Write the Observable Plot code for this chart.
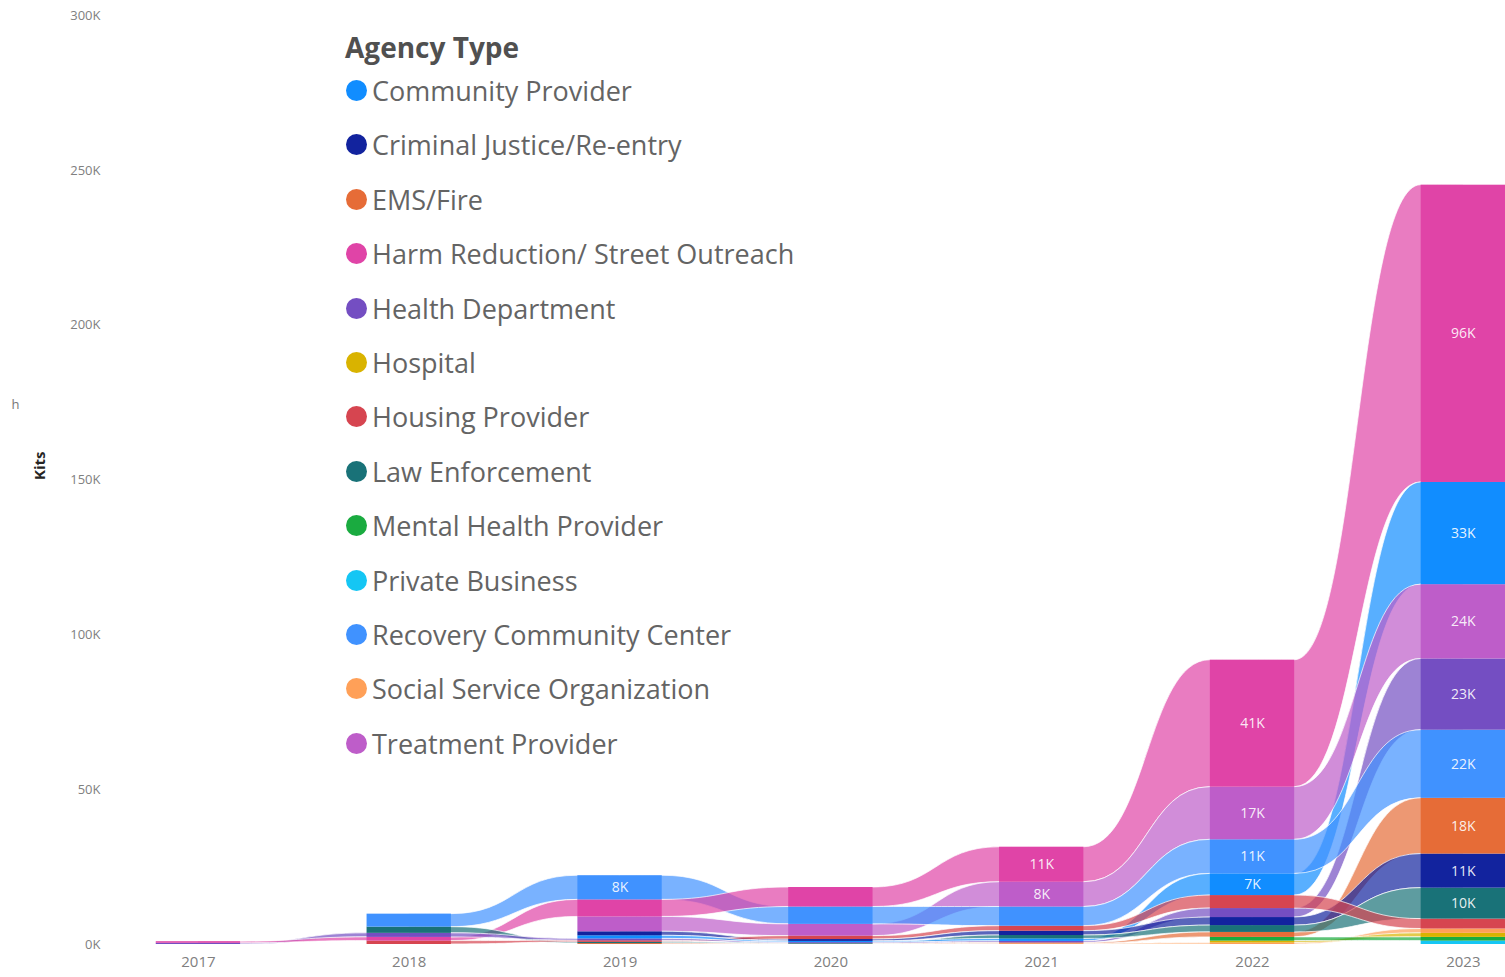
<!DOCTYPE html>
<html><head><meta charset="utf-8">
<script src="https://cdn.jsdelivr.net/npm/d3@7"></script>
<script src="https://cdn.jsdelivr.net/npm/@observablehq/plot@0.6"></script>
<style>
body{margin:0;background:#fff;font-family:"Open Sans",sans-serif;}
#wrap{position:relative;width:1505px;height:977px;overflow:hidden;}
#legend{position:absolute;left:0;top:0;color:#605E5C;}
.ltitle{position:absolute;left:345px;font-size:28px;font-weight:700;color:#505050;white-space:nowrap;line-height:1;}
.litem{position:absolute;left:346px;font-size:27px;white-space:nowrap;line-height:1;display:flex;align-items:center;color:#646464;}
.litem span.dot{display:inline-block;width:21px;height:21px;border-radius:50%;margin-right:5px;}
</style></head>
<body><div id="wrap"><div id="chart"></div><div id="legend"></div></div>
<script>
const years = [2017, 2018, 2019, 2020, 2021, 2022, 2023];
const agencyTypes = ["Community Provider", "Criminal Justice/Re-entry", "EMS/Fire", "Harm Reduction/ Street Outreach", "Health Department", "Hospital", "Housing Provider", "Law Enforcement", "Mental Health Provider", "Private Business", "Recovery Community Center", "Social Service Organization", "Treatment Provider"];
const agencyColors = ["#118DFF", "#12239E", "#E66C37", "#E044A7", "#744EC2", "#D9B300", "#D64550", "#197278", "#1AAB40", "#15C6F4", "#4092FF", "#FFA058", "#BE5DC9"];

// kits per year (2017..2023)
const communityProvider   = [0, 0, 1000, 400, 800, 7000, 33000];
const criminalJustice     = [0, 0, 1300, 600, 1400, 2600, 11000];
const emsFire             = [0, 0, 300, 100, 300, 1600, 18000];
const harmReduction       = [500, 1200, 5500, 6300, 11300, 41000, 96000];
const healthDepartment    = [400, 1300, 600, 300, 500, 2900, 23000];
const hospital            = [0, 0, 0, 0, 0, 600, 1300];
const housingProvider     = [0, 1100, 500, 1100, 1600, 4200, 3200];
const lawEnforcement      = [0, 2000, 400, 200, 1100, 2200, 10000];
const mentalHealth        = [0, 0, 0, 0, 0, 1200, 1200];
const privateBusiness     = [0, 0, 0, 0, 0, 0, 1100];
const recoveryCommunity   = [0, 4200, 7800, 5600, 6200, 11000, 22000];
const socialService       = [0, 0, 0, 0, 200, 500, 1400];
const treatmentProvider   = [0, 0, 4800, 3800, 8000, 17000, 24000];

const seriesValues = [communityProvider, criminalJustice, emsFire, harmReduction, healthDepartment, hospital, housingProvider, lawEnforcement, mentalHealth, privateBusiness, recoveryCommunity, socialService, treatmentProvider];
const yTicks = [0, 50000, 100000, 150000, 200000, 250000, 300000];

const halfW = 0.2;

// stack each year: largest on top
const segments = [];
years.forEach((year, yi) => {
  const rows = agencyTypes.map((a, ai) => ({year, agency: a, value: seriesValues[ai][yi]})).filter(d => d.value > 0);
  rows.sort((a, b) => a.value - b.value);
  let acc = 0;
  for (const r of rows) { r.y0 = acc; acc += r.value; r.y1 = acc; segments.push(r); }
});
const segIndex = new Map(segments.map(s => [s.agency + "|" + s.year, s]));

// ribbons between consecutive years
const ribbonGroups = [];
agencyTypes.forEach((a) => {
  for (let i = 0; i < years.length - 1; i++) {
    const s0 = segIndex.get(a + "|" + years[i]);
    const s1 = segIndex.get(a + "|" + years[i + 1]);
    if (!s0 || !s1) continue;
    const id = a + "|" + i;
    ribbonGroups.push({id, size: Math.max(s0.value, s1.value), pts: [
      {id, agency: a, x: years[i], y0: s0.y0, y1: s0.y1},
      {id, agency: a, x: years[i] + halfW, y0: s0.y0, y1: s0.y1},
      {id, agency: a, x: years[i + 1] - halfW, y0: s1.y0, y1: s1.y1},
      {id, agency: a, x: years[i + 1], y0: s1.y0, y1: s1.y1}
    ]});
  }
});
ribbonGroups.sort((a, b) => b.size - a.size);
const ribbons = ribbonGroups.flatMap(g => g.pts);

const labels = segments.filter(d => d.value >= 6900);

const chart = Plot.plot({
  width: 1505,
  height: 977,
  marginTop: 15,
  marginBottom: 33,
  marginLeft: 110,
  marginRight: 0,
  style: {fontFamily: "'Open Sans', sans-serif", color: "#808080", background: "transparent", overflow: "visible"},
  x: {domain: [years[0] - 0.417, years[years.length - 1] + halfW]},
  y: {domain: [0, 300000]},
  color: {domain: agencyTypes, range: agencyColors},
  marks: [
    Plot.area(ribbons, {x1: "x", y1: "y0", y2: "y1", z: "id", fill: "agency", fillOpacity: 0.7, stroke: "white", strokeOpacity: 0.7, strokeWidth: 1, curve: "bump-x"}),
    Plot.rect(segments, {x1: d => d.year - halfW, x2: d => d.year + halfW, y1: "y0", y2: "y1", fill: "agency"}),
    Plot.text(labels, {x: "year", y: d => (d.y0 + d.y1) / 2, text: d => Math.round(d.value / 1000) + "K", fill: "white", fillOpacity: 0.9, fontSize: 14}),
    Plot.axisY({ticks: yTicks, tickFormat: d => d / 1000 + "K", tickSize: 0, tickPadding: 10, fontSize: 13, label: null}),
    Plot.axisX({ticks: years, tickFormat: d => String(d), tickSize: 0, tickPadding: 12, fontSize: 15, label: null}),
    Plot.text(["Kits"], {frameAnchor: "left", dx: -70, rotate: -90, fontSize: 15, fontWeight: "bold", fill: "#252423"}),
    Plot.text(["h"], {frameAnchor: "left", dx: -99, dy: -75, fontSize: 13, fill: "#777"})
  ]
});
document.getElementById("chart").appendChild(chart);

// legend overlay
const legend = document.getElementById("legend");
const title = document.createElement("div");
title.className = "ltitle";
title.textContent = "Agency Type";
title.style.top = "33px";
legend.appendChild(title);
agencyTypes.forEach((a, i) => {
  const item = document.createElement("div");
  item.className = "litem";
  item.style.top = (77 + i * 54.4) + "px";
  const dot = document.createElement("span");
  dot.className = "dot";
  dot.style.background = agencyColors[i];
  item.appendChild(dot);
  item.appendChild(document.createTextNode(a));
  legend.appendChild(item);
});
</script></body></html>
